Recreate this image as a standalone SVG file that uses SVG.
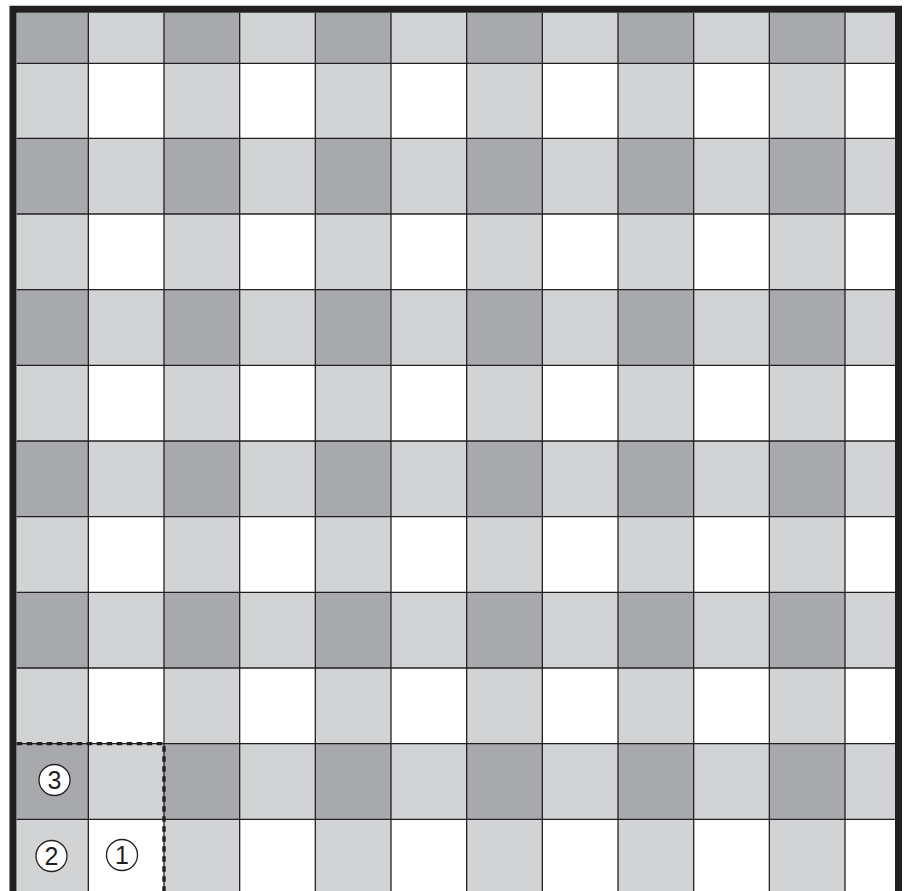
<svg xmlns="http://www.w3.org/2000/svg" xmlns:xlink="http://www.w3.org/1999/xlink" width="909" height="891" viewBox="0 0 909 891">
<style>
.d{fill:#a7a9ac}
.w{fill:#ffffff}
.grid line{stroke:#231f20;stroke-width:1.3}
.frame{fill:none;stroke:#231f20;stroke-width:7;stroke-linejoin:miter}
.dash{fill:none;stroke:#231f20;stroke-width:3.4;stroke-dasharray:5.5 4.5}
.mark circle{fill:#ffffff;stroke:#231f20;stroke-width:1.3}
.mark text{font-family:"Liberation Sans",Arial,sans-serif;font-size:25px;fill:#231f20;text-anchor:middle}
</style>
<defs>
<clipPath id="inner"><rect x="16.7" y="12.7" width="878.3" height="880"/></clipPath>
<g id="drow">
<rect class="d" x="10" y="0" width="78.33" height="75.67"/>
<rect class="d" x="164" y="0" width="75.67" height="75.67"/>
<rect class="d" x="315.33" y="0" width="75.67" height="75.67"/>
<rect class="d" x="466.67" y="0" width="75.67" height="75.67"/>
<rect class="d" x="618" y="0" width="75.67" height="75.67"/>
<rect class="d" x="769.33" y="0" width="75.67" height="75.67"/>
</g>
<g id="wrow">
<rect class="w" x="88.33" y="0" width="75.67" height="75.67"/>
<rect class="w" x="239.67" y="0" width="75.67" height="75.67"/>
<rect class="w" x="391" y="0" width="75.67" height="75.67"/>
<rect class="w" x="542.33" y="0" width="75.67" height="75.67"/>
<rect class="w" x="693.67" y="0" width="75.67" height="75.67"/>
<rect class="w" x="845" y="0" width="60" height="75.67"/>
</g>
</defs>
<rect x="0" y="0" width="909" height="891" fill="#ffffff"/>
<g id="cells" clip-path="url(#inner)">
<rect x="10" y="5" width="899" height="886" fill="#d1d3d4"/>
<use xlink:href="#drow" y="-12.37"/>
<use xlink:href="#drow" y="138.33"/>
<use xlink:href="#drow" y="289.67"/>
<use xlink:href="#drow" y="441"/>
<use xlink:href="#drow" y="592.33"/>
<use xlink:href="#drow" y="743.67"/>
<use xlink:href="#wrow" y="63.3"/>
<use xlink:href="#wrow" y="214"/>
<use xlink:href="#wrow" y="365.33"/>
<use xlink:href="#wrow" y="516.67"/>
<use xlink:href="#wrow" y="668"/>
<use xlink:href="#wrow" y="819.33"/>
</g>
<g id="connectors">
<g class="grid">
<line x1="88.33" y1="12.7" x2="88.33" y2="891"/>
<line x1="164" y1="12.7" x2="164" y2="891"/>
<line x1="239.67" y1="12.7" x2="239.67" y2="891"/>
<line x1="315.33" y1="12.7" x2="315.33" y2="891"/>
<line x1="391" y1="12.7" x2="391" y2="891"/>
<line x1="466.67" y1="12.7" x2="466.67" y2="891"/>
<line x1="542.33" y1="12.7" x2="542.33" y2="891"/>
<line x1="618" y1="12.7" x2="618" y2="891"/>
<line x1="693.67" y1="12.7" x2="693.67" y2="891"/>
<line x1="769.33" y1="12.7" x2="769.33" y2="891"/>
<line x1="845" y1="12.7" x2="845" y2="891"/>
<line x1="16.7" y1="63.3" x2="895" y2="63.3"/>
<line x1="16.7" y1="138.33" x2="895" y2="138.33"/>
<line x1="16.7" y1="214" x2="895" y2="214"/>
<line x1="16.7" y1="289.67" x2="895" y2="289.67"/>
<line x1="16.7" y1="365.33" x2="895" y2="365.33"/>
<line x1="16.7" y1="441" x2="895" y2="441"/>
<line x1="16.7" y1="516.67" x2="895" y2="516.67"/>
<line x1="16.7" y1="592.33" x2="895" y2="592.33"/>
<line x1="16.7" y1="668" x2="895" y2="668"/>
<line x1="16.7" y1="743.67" x2="895" y2="743.67"/>
<line x1="16.7" y1="819.33" x2="895" y2="819.33"/>
</g>
<path class="dash" d="M16.7,743.67 H164 V891"/>
</g>
<path id="frame" class="frame" d="M13,895 V9.2 H898.5 V895"/>
<g id="mark3" class="mark"><circle cx="54.5" cy="780" r="15.5"/><text x="54.5" y="789">3</text></g>
<g id="mark2" class="mark"><circle cx="51.5" cy="856" r="15.5"/><text x="51.5" y="865">2</text></g>
<g id="mark1" class="mark"><circle cx="122" cy="855" r="15.5"/><text x="122" y="864">1</text></g>
</svg>
